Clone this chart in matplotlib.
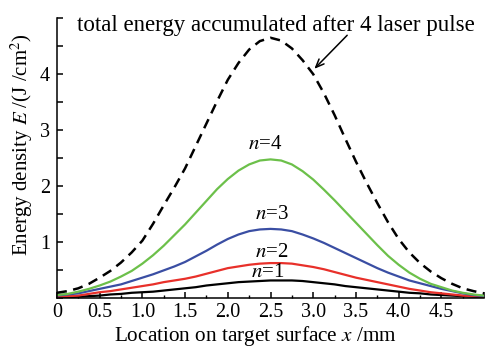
import matplotlib
matplotlib.use("Agg")
import matplotlib.pyplot as plt
from matplotlib.ticker import FixedLocator, FixedFormatter

# data (x step 0.125 mm)
x_mm = [i * 0.125 for i in range(41)]
total = [0.10, 0.13, 0.18, 0.26, 0.37, 0.49, 0.64, 0.82, 1.03, 1.33,
         1.66, 1.98, 2.32, 2.72, 3.12, 3.52, 3.90, 4.20, 4.44, 4.59,
         4.65, 4.60, 4.46, 4.25, 4.00, 3.66, 3.27, 2.85, 2.44, 2.06,
         1.70, 1.36, 1.06, 0.82, 0.63, 0.48, 0.36, 0.26, 0.18, 0.13, 0.09]
n4 = [0.06, 0.08, 0.12, 0.17, 0.23, 0.30, 0.39, 0.49, 0.62, 0.77,
      0.94, 1.13, 1.32, 1.53, 1.74, 1.95, 2.13, 2.28, 2.39, 2.46,
      2.48, 2.46, 2.39, 2.27, 2.12, 1.94, 1.75, 1.55, 1.35, 1.15,
      0.95, 0.76, 0.60, 0.46, 0.35, 0.26, 0.20, 0.14, 0.10, 0.07, 0.05]
n3 = [0.05, 0.07, 0.09, 0.13, 0.17, 0.21, 0.25, 0.31, 0.37, 0.43,
      0.50, 0.57, 0.65, 0.75, 0.85, 0.96, 1.06, 1.14, 1.20, 1.23,
      1.24, 1.23, 1.20, 1.14, 1.07, 0.99, 0.90, 0.81, 0.72, 0.63,
      0.54, 0.46, 0.39, 0.32, 0.27, 0.22, 0.17, 0.13, 0.09, 0.06, 0.04]
n2 = [0.03, 0.04, 0.05, 0.08, 0.11, 0.13, 0.16, 0.19, 0.22, 0.25,
      0.29, 0.32, 0.35, 0.39, 0.44, 0.49, 0.54, 0.57, 0.60, 0.62,
      0.63, 0.63, 0.62, 0.59, 0.56, 0.52, 0.47, 0.42, 0.37, 0.33,
      0.29, 0.25, 0.21, 0.17, 0.14, 0.11, 0.09, 0.07, 0.05, 0.04, 0.03]
n1 = [0.02, 0.02, 0.03, 0.04, 0.05, 0.07, 0.08, 0.10, 0.11, 0.12,
      0.14, 0.16, 0.18, 0.20, 0.23, 0.25, 0.27, 0.29, 0.30, 0.31,
      0.32, 0.32, 0.32, 0.31, 0.29, 0.27, 0.25, 0.22, 0.20, 0.18,
      0.16, 0.14, 0.12, 0.10, 0.09, 0.07, 0.06, 0.05, 0.04, 0.03, 0.02]

x_ticks = [0, 0.5, 1.0, 1.5, 2.0, 2.5, 3.0, 3.5, 4.0, 4.5, 5.0]
x_labels = ["0", "0.5", "1.0", "1.5", "2.0", "2.5", "3.0", "3.5", "4.0", "4.5", ""]
y_ticks = [0, 0.5, 1, 1.5, 2, 2.5, 3, 3.5, 4, 4.5, 5]
y_labels = ["", "", "1", "", "2", "", "3", "", "4", "", ""]


def main():
    plt.rcParams['font.family'] = ['Liberation Serif', 'DejaVu Serif']
    plt.rcParams['mathtext.fontset'] = 'stix'

    fig = plt.figure(figsize=(4.95, 3.49), dpi=100)
    ax = fig.add_axes([0.115, 0.145, 0.863, 0.803])

    ax.plot(x_mm, n1, color='black', lw=1.6)
    ax.plot(x_mm, n2, color='#e8302a', lw=1.6)
    ax.plot(x_mm, n3, color='#3a4ea3', lw=1.6)
    ax.plot(x_mm, n4, color='#6cc04a', lw=1.6)
    ax.plot(x_mm, total, color='black', lw=1.8, linestyle=(0, (4, 2.6)))

    ax.set_xlim(0, 5)
    ax.set_ylim(0, 5)
    for s in ['top', 'right']:
        ax.spines[s].set_visible(False)
    for s in ['left', 'bottom']:
        ax.spines[s].set_linewidth(1.1)

    ax.xaxis.set_major_locator(FixedLocator(x_ticks))
    ax.xaxis.set_major_formatter(FixedFormatter(x_labels))
    ax.xaxis.set_minor_locator(FixedLocator([0.25, 0.75, 1.25, 1.75, 2.25, 2.75, 3.25, 3.75, 4.25, 4.75]))
    ax.yaxis.set_major_locator(FixedLocator(y_ticks))
    ax.yaxis.set_major_formatter(FixedFormatter(y_labels))
    ax.tick_params(axis='both', which='major', direction='in', length=4.5, width=1.1, labelsize=14.5)
    ax.tick_params(axis='x', which='minor', direction='in', length=2.5, width=1.0)
    ax.tick_params(axis='x', which='major', pad=3)
    ax.tick_params(axis='y', which='major', pad=5)

    ax.set_xlabel(r'Location on target surface $x$ /mm', fontsize=15.3, va='center')
    ax.xaxis.set_label_coords(0.466, -0.135)
    ax.set_ylabel(r'Energy density $E$ /(J /cm$^2$)', fontsize=15, va='center')
    ax.yaxis.set_label_coords(-0.082, 0.55)

    ax.text(2.44, 2.74, r'$n$=4', fontsize=15, ha='center', va='center')
    ax.text(2.52, 1.50, r'$n$=3', fontsize=15, ha='center', va='center')
    ax.text(2.52, 0.82, r'$n$=2', fontsize=15, ha='center', va='center')
    ax.text(2.47, 0.47, r'$n$=1', fontsize=15, ha='center', va='center')

    ax.text(2.56, 4.87, 'total energy accumulated after 4 laser pulse',
            fontsize=16.5, ha='center', va='center')
    ax.annotate('', xy=(2.99, 4.06), xytext=(3.42, 4.73),
                arrowprops=dict(arrowstyle='->,head_length=0.6,head_width=0.25', lw=1.1, color='black'))

    fig.savefig("out.png", dpi=100)


if __name__ == "__main__":
    main()
